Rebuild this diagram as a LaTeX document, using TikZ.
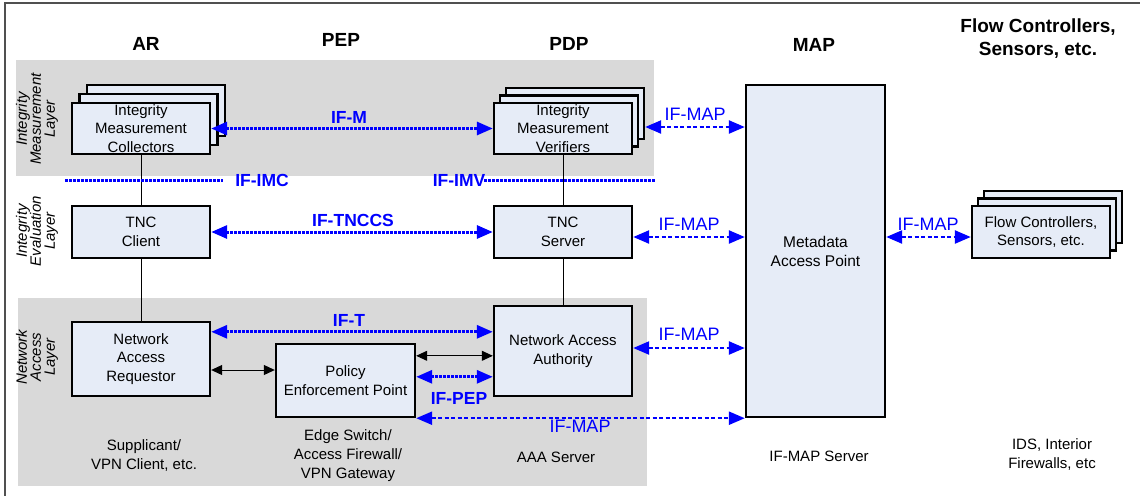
\documentclass[tikz,border=0pt]{standalone}
\usepackage{fontspec}
\setmainfont{Liberation Sans}
\usetikzlibrary{arrows.meta}
\definecolor{boxfill}{RGB}{230,236,247}
\definecolor{band}{RGB}{217,217,217}
\definecolor{ifblue}{RGB}{0,0,255}
\definecolor{frame}{RGB}{80,80,80}
\begin{document}
\begin{tikzpicture}[x=1pt,y=-1pt,
  box/.style={draw=black, line width=2.4pt, fill=boxfill, minimum width=138pt, inner sep=0pt, align=center, font=\fontsize{15}{18.5}\selectfont},
  bluetip/.style={{Triangle[length=16pt,width=13pt]}-{Triangle[length=16pt,width=13pt]}},
  ifarrow/.style={ifblue, line width=3pt, dash pattern=on 2.5pt off 1.5pt, bluetip},
  ifdots/.style={ifblue, line width=3pt, dash pattern=on 2.5pt off 1.5pt},
  mapline/.style={ifblue, line width=2.4pt, dash pattern=on 4pt off 2.5pt, bluetip},
  blk/.style={black, line width=1pt, {Triangle[length=11pt,width=10pt]}-{Triangle[length=11pt,width=10pt]}},
  conn/.style={black, line width=0.8pt},
  lab/.style={text=ifblue, inner sep=0pt, font=\bfseries\fontsize{17.5}{20}\selectfont},
  maplab/.style={text=ifblue, inner sep=0pt, font=\fontsize{18}{20}\selectfont},
  hdr/.style={align=center, inner sep=0pt, font=\bfseries\fontsize{19}{23}\selectfont},
  note/.style={align=center, inner sep=0pt, font=\fontsize{15}{19}\selectfont},
  lay/.style={rotate=90, align=center, inner sep=0pt, font=\itshape\fontsize{15}{14}\selectfont}
]
\useasboundingbox (0,0) rectangle (1140,496);
% background bands
\fill[band] (16,60) rectangle (654,176);
\fill[band] (18,298) rectangle (647,486);
% frame
\draw[frame, line width=1.5pt] (1140,3) -- (5,3) -- (5,496);

% headers
\node[hdr] (hAR) at (146,44) {AR};
\node[hdr] (hPEP) at (341,40) {PEP};
\node[hdr] (hPDP) at (569,44) {PDP};
\node[hdr] (hMAP) at (814,45) {MAP};
\node[hdr] (hFC) at (1038,39) {Flow Controllers,\\Sensors, etc.};

% layer labels
\node[lay] (l1) at (37,119) {Integrity\\Measurement\\Layer};
\node[lay] (l2) at (37,231) {Integrity\\Evaluation\\Layer};
\node[lay] (l3) at (37,357) {Network\\Access\\Layer};

% IMC stack
\node[box, minimum height=51pt] (imc3) at (156,110.5) {};
\node[box, minimum height=51pt] (imc2) at (148.5,119.5) {};
\node[box, minimum height=51pt] (imc) at (141,128.5) {Integrity\\Measurement\\Collectors};
% IMV stack
\node[box, minimum height=51pt] (imv3) at (575,113.5) {};
\node[box, minimum height=51pt] (imv2) at (569,121) {};
\node[box, minimum height=51pt] (imv) at (563,128.5) {Integrity\\Measurement\\Verifiers};
% TNC
\node[box, minimum height=52pt] (tncc) at (141,232) {TNC\\Client};
\node[box, minimum height=52pt] (tncs) at (563,232) {TNC\\Server};
% network access
\node[box, minimum height=74pt] (nar) at (141,359) {Network\\Access\\Requestor};
\node[box, minimum height=90pt] (naa) at (563,351) {Network Access\\Authority};
\node[box, minimum height=73pt, minimum width=139pt] (pep) at (345.5,380.5) {Policy\\Enforcement Point};
% MAP
\node[box, minimum height=332pt, minimum width=139pt, font=\fontsize{15.5}{19}\selectfont] (map) at (815.5,251) {Metadata\\Access Point};
% flow controllers stack
\node[box, minimum height=52pt] (fc3) at (1053,217) {};
\node[box, minimum height=52pt] (fc2) at (1047,224.5) {};
\node[box, minimum height=52pt] (fc) at (1041,232) {Flow Controllers,\\Sensors, etc.};

% vertical connectors
\draw[conn] (imc.south) -- (tncc.north);
\draw[conn] (tncc.south) -- (nar.north);
\draw[conn] (imv.south) -- (tncs.north);
\draw[conn] (tncs.south) -- (naa.north);

% interface lines IF-IMC / IF-IMV
\coordinate (imcA) at (65,180);
\coordinate (imcB) at (223,180);
\coordinate (imvA) at (484,180);
\coordinate (imvB) at (655,180);
\draw[ifdots] (imcA) -- (imcB);
\draw[ifdots] (imvA) -- (imvB);

% arrows
\draw[ifarrow] (imc.east) -- (imv.west);
\draw[ifarrow] (tncc.east) -- (tncs.west);
\coordinate (t1) at ([yshift=-11pt]nar.north east);
\draw[ifarrow] (t1) -- (t1 -| naa.west);
\coordinate (b1) at ([yshift=-11pt]nar.east);
\draw[blk] (b1) -- (b1 -| pep.west);
\coordinate (b2) at ([yshift=-13pt]pep.north east);
\draw[blk] (b2) -- (b2 -| naa.west);
\coordinate (p1) at ([yshift=-34pt]pep.north east);
\draw[ifarrow] (p1) -- (p1 -| naa.west);

% IF-MAP lines
\coordinate (m1) at ([yshift=-13.5pt]imv3.east);
\draw[mapline] (m1) -- (m1 -| map.west);
\coordinate (m2) at ([yshift=-5pt]tncs.east);
\draw[mapline] (m2) -- (m2 -| map.west);
\coordinate (m3) at ([yshift=3pt]naa.east);
\draw[mapline] (m3) -- (m3 -| map.west);
\coordinate (m4) at (map.east |- m2);
\draw[mapline] (m4) -- (m4 -| fc.west);
\draw[mapline] (pep.south east) -- (map.south west);

% labels
\node[lab] (lM) at (349,117) {IF-M};
\node[lab] (lIMC) at (262,180) {IF-IMC};
\node[lab] (lIMV) at (459,180) {IF-IMV};
\node[lab] (lTNCCS) at (353,220) {IF-TNCCS};
\node[lab] (lT) at (349,320) {IF-T};
\node[lab] (lPEP) at (459,398) {IF-PEP};
\node[maplab] (lm1) at (695,114) {IF-MAP};
\node[maplab] (lm2) at (689,224) {IF-MAP};
\node[maplab] (lm3) at (689,334) {IF-MAP};
\node[maplab] (lm4) at (928,224) {IF-MAP};
\node[maplab] (lm5) at (580,426) {IF-MAP};

% notes
\node[note] (n1) at (144,455.5) {Supplicant/\\VPN Client, etc.};
\node[note] (n2) at (348,455.5) {Edge Switch/\\Access Firewall/\\VPN Gateway};
\node[note] (n3) at (556,457) {AAA Server};
\node[note] (n4) at (819,456) {IF-MAP Server};
\node[note] (n5) at (1052,455) {IDS, Interior\\Firewalls, etc};
\end{tikzpicture}
\end{document}
